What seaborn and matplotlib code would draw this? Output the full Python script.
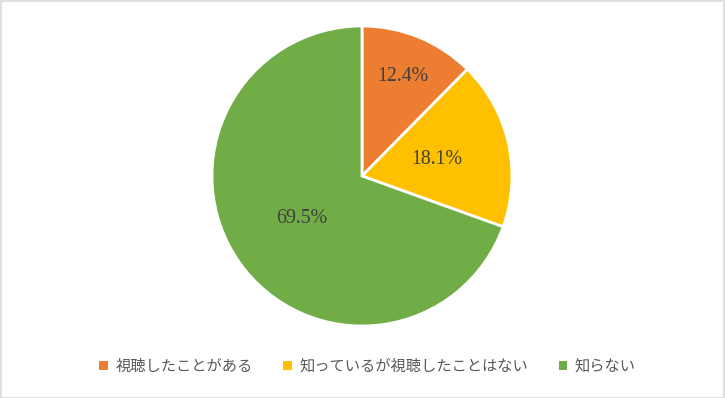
import matplotlib
matplotlib.use('Agg')
import matplotlib.pyplot as plt
import seaborn as sns
import numpy as np
from matplotlib.patches import Rectangle, Patch

# データ
categories = ['視聴したことがある', '知っているが視聴したことはない', '知らない']
shares = [12.4, 18.1, 69.5]
colors = ['#ED7D31', '#FFC000', '#70AD47']
label_dist = [0.72, 0.51, 0.49]

sns.set_style('white')
plt.rcParams['font.family'] = ['Noto Sans CJK JP', 'DejaVu Sans']

fig = plt.figure(figsize=(7.25, 3.98), dpi=100)
ax = fig.add_axes([0.4993 - 0.2069, 0.5578 - 0.3769, 0.4138, 0.7538])

wedges, _ = ax.pie(shares, colors=colors, startangle=90, counterclock=False,
                   wedgeprops=dict(edgecolor='white', linewidth=2))
ax.set_xlim(-1.0, 1.0)
ax.set_ylim(-1.0, 1.0)
ax.set_aspect('equal')
ax.axis('off')

# パーセント表示
for w, val, d in zip(wedges, shares, label_dist):
    ang = np.deg2rad((w.theta1 + w.theta2) / 2)
    ax.text(d * np.cos(ang), d * np.sin(ang), f'{val:.1f}%',
            ha='center', va='center', fontsize=14.3, color='#404040',
            family=['Liberation Serif', 'DejaVu Serif'])

handles = [Patch(facecolor=c, edgecolor='none') for c in colors]
fig.legend(handles, categories, loc='center', bbox_to_anchor=(0.507, 0.08),
           ncol=3, frameon=False, fontsize=11, labelcolor='#595959',
           handlelength=0.55, handleheight=0.55, handletextpad=0.5,
           columnspacing=2.0)

fig.patches.append(Rectangle((0.5 / 725, 0.5 / 398), 1 - 1.5 / 725, 1 - 1.5 / 398,
                             transform=fig.transFigure, fill=False,
                             edgecolor='#D9D9D9', linewidth=1.2))

fig.savefig('out.png', dpi=100, facecolor='white')
